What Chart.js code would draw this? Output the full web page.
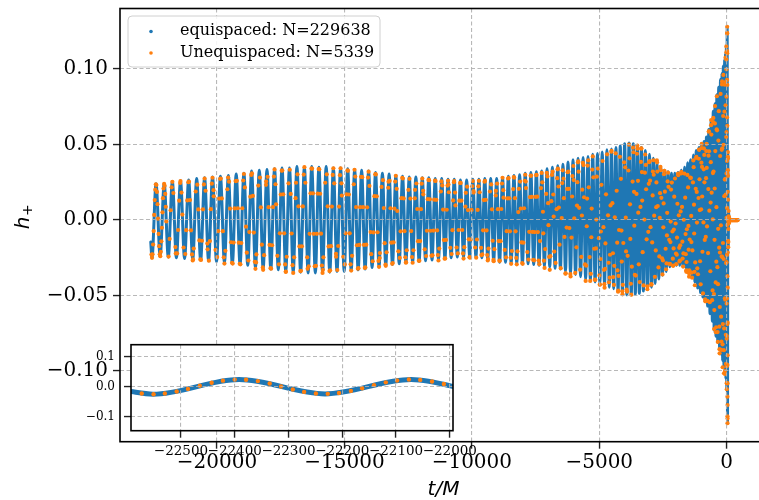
<!DOCTYPE html>
<html>
<head>
<meta charset="utf-8">
<script src="https://cdn.jsdelivr.net/npm/chart.js"></script>
<style>
  html, body { margin: 0; padding: 0; background: #fff; overflow: hidden; width: 759px; height: 500px; }
  #wrap { position: relative; width: 759px; height: 500px; overflow: hidden; }
  #main { position: absolute; left: 0; top: 0; width: 790px; height: 500px; }
  #inset { position: absolute; left: 60px; top: 330px; width: 440px; height: 140px; }
</style>
</head>
<body>
<div id="wrap">
  <canvas id="main" width="790" height="500"></canvas>
  <canvas id="inset" width="440" height="140"></canvas>
</div>
<script>
// Waveform h+ versus t/M: turning points of the densely (equally) sampled signal.
const equiExtrema = [
  [-22600,-.0145],
  [-22552,-.025],[-22392,.024],[-22232,-.024],[-22072,.024],[-21912,-.0245],[-21753,.0255],[-21593,-.025],[-21433,.026],[-21273,-.0255],[-21113,.0265],
  [-20953,-.026],[-20798,.0275],[-20642,-.0265],[-20487,.028],[-20331,-.027],[-20176,.0285],[-20020,-.0275],[-19865,.029],[-19709,-.028],[-19554,.0295],
  [-19398,-.029],[-19247,.0305],[-19096,-.0295],[-18945,.031],[-18794,-.030],[-18643,.0325],[-18492,-.0315],[-18341,.033],[-18190,-.032],[-18039,.0335],
  [-17888,-.0325],[-17742,.034],[-17595,-.033],[-17449,.0345],[-17303,-.034],[-17157,.0345],[-17010,-.0345],[-16864,.0355],[-16718,-.0345],[-16571,.035],
  [-16425,-.035],[-16283,.0355],[-16142,-.035],[-16000,.035],[-15859,-.0345],[-15717,.0355],[-15575,-.0345],[-15434,.0345],[-15292,-.034],[-15151,.0345],
  [-15009,-.034],[-14872,.034],[-14735,-.0335],[-14599,.0335],[-14462,-.033],[-14325,.033],[-14189,-.0325],[-14052,.0325],[-13915,-.0315],[-13779,.0315],
  [-13642,-.031],[-13510,.031],[-13378,-.030],[-13247,.0305],[-13115,-.0295],[-12983,.0295],[-12851,-.029],[-12719,.029],[-12588,-.028],[-12456,.0285],
  [-12324,-.028],[-12197,.0285],[-12070,-.0275],[-11944,.028],[-11817,-.027],[-11690,.028],[-11563,-.0265],[-11436,.0275],[-11310,-.026],[-11183,.0275],
  [-11056,-.0255],[-10934,.027],[-10813,-.025],[-10691,.027],[-10570,-.0245],[-10448,.0265],[-10326,-.0245],[-10205,.0265],[-10083,-.0245],[-9962,.027],
  [-9840,-.0245],[-9724,.027],[-9608,-.025],[-9492,.0275],[-9376,-.026],[-9260,.0275],[-9143,-.027],[-9027,.0275],[-8911,-.028],[-8795,.028],
  [-8679,-.028],[-8568,.029],[-8458,-.0285],[-8347,.0295],[-8237,-.0285],[-8126,.030],[-8015,-.029],[-7905,.031],[-7794,-.029],[-7684,.0315],
  [-7573,-.0295],[-7468,.032],[-7363,-.030],[-7258,.0325],[-7153,-.0305],[-7049,.034],[-6944,-.031],[-6839,.035],[-6734,-.032],[-6629,.036],
  [-6524,-.0325],[-6425,.037],[-6326,-.034],[-6227,.0385],[-6128,-.035],[-6030,.040],[-5931,-.036],[-5832,.041],[-5733,-.0375],[-5634,.0415],
  [-5535,-.039],[-5442,.042],[-5349,-.040],[-5257,.0435],[-5164,-.041],[-5071,.044],[-4978,-.042],[-4885,.045],[-4793,-.043],[-4700,.0465],
  [-4607,-.0445],[-4521,.047],[-4435,-.0455],[-4348,.048],[-4262,-.047],[-4176,.049],[-4090,-.048],[-4004,.0505],[-3917,-.0495],[-3831,.051],
  [-3745,-.0495],[-3666,.0505],[-3586,-.049],[-3507,.0495],[-3427,-.0485],[-3348,.048],[-3269,-.047],[-3189,.046],[-3110,-.046],[-3030,.0435],
  [-2951,-.0445],[-2879,.041],[-2807,-.042],[-2735,.038],[-2663,-.039],[-2591,.0355],[-2518,-.0365],[-2446,.033],[-2374,-.034],[-2302,.032],
  [-2230,-.031],[-2166,.031],[-2101,-.030],[-2037,.031],[-1973,-.030],[-1909,.0315],[-1844,-.030],[-1780,.033],[-1716,-.031],[-1651,.035],
  [-1587,-.032],[-1531,.038],[-1475,-.035],[-1419,.040],[-1363,-.037],[-1307,.043],[-1251,-.041],[-1195,.046],[-1139,-.045],[-1083,.048],
  [-1027,-.048],[-981,.050],[-934,-.051],[-888,.052],[-841,-.054],[-795,.055],[-749,-.057],[-702,.060],[-656,-.062],[-609,.066],
  [-563,-.067],[-528,.072],[-492,-.073],[-457,.077],[-421,-.077],[-386,.083],[-351,-.081],[-315,.088],[-280,-.085],[-244,.093],
  [-209,-.089],[-183,.097],[-158,-.093],[-132,.102],[-107,-.097],[-81,.106],[-64,-.101],[-47,.110],[-30,-.105],[-13,.115],
  [4,-.112],[20,.128],[32,-.1345],[46,.045],[60,-.018],[75,.006],[95,-.002],[130,0],[440,0]
];

// Samples of the unequally spaced series.
const uneqSamples = [
  [-22573,-.0229],[-22551,-.025],[-22530,-.0227],[-22508,-.0162],[-22487,-.0073],[-22465,.0034],[-22443,.0132],[-22422,.0201],[-22400,.0237],[-22379,.0232],
  [-22357,.0186],[-22335,.0105],[-22314,.0009],[-22292,-.0092],[-22271,-.0173],[-22249,-.0227],[-22227,-.0239],[-22206,-.021],[-22184,-.0141],[-22163,-.0051],
  [-22141,.0051],[-22119,.0145],[-22098,.0209],[-22076,.0239],[-22055,.0227],[-22033,.0173],[-22011,.0088],[-21990,-.0009],
  [-21899,-.0242],[-21859,-.0125],[-21819,.0065],[-21780,.0217],[-21753,.0253],[-21713,.0179],[-21619,-.0221],[-21633,-.0179],
  [-21566,-.0221],[-21526,-.0066],[-21486,.0128],[-21446,.0246],[-21433,.0258],[-21393,.0182],[-21360,.0036],[-21313,-.0182],
  [-21246,-.0225],[-21206,-.0067],[-21166,.013],[-21126,.0251],[-21100,.0254],[-21060,.0132],[-21020,-.0068],[-20980,-.0228],
  [-20953,-.0268],[-20914,-.0189],[-20942,-.0261],[-20837,.0189],[-20772,.0234],[-20733,.007],[-20694,-.0135],[-20655,-.0261],
  [-20629,-.0264],[-20590,-.0137],[-20552,.0071],[-20513,.0236],[-20487,.0275],[-20448,.0194],[-20379,-.0156],[-20370,-.0194],
  [-20318,-.0269],[-20279,-.0139],[-20241,.0072],[-20202,.0241],[-20176,.028],[-20137,.0198],[-20128,.0157],[-20059,-.0198],
  [-19994,-.0245],[-19955,-.0073],[-19917,.0142],[-19878,.0273],[-19852,.0275],[-19813,.0143],[-19774,-.0074],[-19735,-.0247],
  [-19709,-.0288],[-19670,-.0204],[-19565,.0281],[-19593,.0204],[-19528,.0254],[-19489,.0076],[-19450,-.0147],[-19411,-.0283],
  [-19385,-.0288],[-19348,-.0149],[-19310,.0077],[-19272,.0258],[-19222,.026],[-19184,.0078],[-19146,-.015],[-19109,-.029],
  [-19083,-.0293],[-19046,-.0152],[-19008,.0078],[-18970,.0262],[-18945,.0305],[-18907,.0216],[-18863,-.0044],[-18832,-.0216],
  [-18769,-.0268],[-18731,-.008],[-18693,.0155],[-18655,.0299],[-18630,.0309],[-18593,.016],[-18555,-.0083],[-18517,-.0277],
  [-18492,-.0323],[-18454,-.0228],[-18467,-.0281],[-18379,.0228],[-18316,.0281],[-18278,.0084],[-18240,-.0163],[-18203,-.0314],
  [-18190,-.033],[-18152,-.0233],[-18072,.0256],[-18077,.0233],[-18014,.0286],[-17976,.0085],[-17938,-.0165],[-17901,-.0319],
  [-17876,-.0322],[-17839,-.0167],[-17803,.0086],[-17766,.0288],[-17742,.0335],[-17705,.0237],[-17683,.0104],[-17632,-.0237],
  [-17571,-.0293],[-17534,-.0088],[-17498,.0169],[-17461,.0327],[-17437,.0328],[-17400,.017],[-17364,-.0088],[-17327,-.0294],
  [-17303,-.0343],[-17266,-.0243],[-17300,-.0342],[-17193,.0243],[-17145,.0333],[-17108,.0173],[-17071,-.0089],[-17035,-.0299],
  [-17010,-.035],[-16973,-.0247],[-16917,.0145],[-16900,.0247],[-16840,.0303],[-16803,.0091],[-16767,-.0175],[-16730,-.0338],
  [-16706,-.0336],[-16669,-.0174],[-16632,.009],[-16596,.0301],[-16571,.035],[-16534,.0247],[-16444,-.0322],[-16461,-.0247],
  [-16401,-.0306],[-16366,-.0091],[-16330,.0177],[-16295,.0341],[-16271,.0341],[-16236,.0177],[-16201,-.0091],[-16166,-.0306],
  [-16118,-.0303],[-16083,-.0091],[-16047,.0175],[-16012,.0338],[-15988,.0336],[-15953,.0174],[-15918,-.009],[-15883,-.0301],
  [-15859,-.035],[-15824,-.0247],[-15844,-.033],[-15753,.0247],[-15693,.0303],[-15658,.0091],[-15622,-.0175],[-15587,-.0338],
  [-15563,-.0333],[-15528,-.0173],[-15493,.0089],[-15458,.0299],[-15434,.0343],[-15399,.0243],[-15331,-.0224],[-15328,-.0243],
  [-15280,-.0331],[-15245,-.0172],[-15210,.0089],[-15175,.0297],[-15151,.0343],[-15116,.0243],[-15102,.0162],[-15045,-.0243],
  [-14986,-.0294],[-14952,-.0088],[-14918,.017],[-14883,.0328],[-14861,.0327],[-14826,.0169],[-14792,-.0088],[-14758,-.0293],
  [-14735,-.0335],[-14701,-.0237],[-14604,.0333],[-14633,.0237],[-14576,.0288],[-14542,.0086],[-14508,-.0167],[-14473,-.0322],
  [-14451,-.0319],[-14416,-.0165],[-14382,.0085],[-14348,.0286],[-14302,.0284],[-14268,.0085],[-14234,-.0164],[-14200,-.0317],
  [-14178,-.0314],[-14143,-.0163],[-14109,.0084],[-14075,.0281],[-14052,.032],[-14018,.0226],[-13973,-.008],[-13949,-.0226],
  [-13892,-.0273],[-13858,-.0082],[-13824,.0158],[-13790,.0304],[-13768,.0302],[-13733,.0157],[-13699,-.0081],[-13665,-.0271],
  [-13642,-.031],[-13609,-.0219],[-13616,-.0252],[-13543,.0219],[-13488,.0264],[-13455,.0079],[-13422,-.0153],[-13389,-.0295],
  [-13378,-.0303],[-13345,-.0214],[-13271,.0254],[-13280,.0214],[-13225,.026],[-13192,.0078],[-13159,-.015],[-13126,-.029],
  [-13104,-.0285],[-13071,-.0148],[-13038,.0076],[-13005,.0255],[-12983,.0293],[-12950,.0207],[-12926,.006],[-12884,-.0207],
  [-12829,-.0251],[-12796,-.0075],[-12763,.0145],[-12730,.028],[-12708,.0275],[-12675,.0143],[-12643,-.0074],[-12610,-.0247],
  [-12588,-.0283],[-12555,-.02],[-12581,-.0279],[-12489,.02],[-12445,.0273],[-12412,.0142],[-12379,-.0073],[-12346,-.0245],
  [-12324,-.0283],[-12292,-.02],[-12239,.0144],[-12229,.02],[-12176,.0242],[-12144,.0073],[-12112,-.014],[-12081,-.027],
  [-12060,-.0269],[-12028,-.0139],[-11997,.0072],[-11965,.0241],[-11944,.0275],[-11912,.0194],[-11907,.017],[-11849,-.0194],
  [-11796,-.0238],[-11764,-.0071],[-11732,.0138],[-11701,.0266],[-11679,.0264],[-11648,.0137],[-11616,-.0071],[-11584,-.0236],
  [-11542,-.0234],[-11510,-.007],[-11478,.0135],[-11447,.0261],[-11426,.0259],[-11394,.0134],[-11363,-.0069],[-11331,-.0232],
  [-11310,-.0268],[-11278,-.0189],[-11195,.0256],[-11215,.0189],[-11162,.0229],[-11130,.0069],[-11098,-.0133],[-11067,-.0256],
  [-11046,-.0254],[-11015,-.0132],[-10985,.0068],[-10954,.0228],[-10934,.026],[-10904,.0184],[-10917,.0235],[-10843,-.0184],
  [-10793,-.0225],[-10762,-.0067],[-10732,.013],[-10701,.0251],[-10691,.0258],[-10661,.0182],[-10645,.0097],[-10600,-.0182],
  [-10550,-.0221],[-10519,-.0066],[-10489,.0128],[-10458,.0246],[-10438,.0246],[-10407,.0128],[-10377,-.0066],[-10346,-.0221],
  [-10326,-.0255],[-10296,-.018],[-10252,.0089],[-10235,.018],[-10185,.0221],[-10154,.0066],[-10124,-.0128],[-10093,-.0246],
  [-10073,-.0249],[-10043,-.0129],[-10012,.0067],[-9982,.0223],[-9962,.0258],[-9931,.0182],[-9934,.0192],[-9870,-.0182],
  [-9830,-.0249],[-9801,-.0129],[-9772,.0067],[-9743,.0223],[-9724,.026],[-9695,.0184],[-9625,-.0232],[-9637,-.0184],
  [-9589,-.0228],[-9560,-.0068],[-9531,.0132],[-9502,.0254],[-9482,.0259],[-9453,.0134],[-9424,-.0069],[-9395,-.0232],
  [-9376,-.0268],[-9347,-.0189],[-9366,-.0258],[-9289,.0189],[-9241,.0236],[-9211,.0071],[-9182,-.0137],[-9153,-.0264],
  [-9143,-.0273],[-9114,-.0193],[-9061,.0163],[-9056,.0193],[-9008,.0241],[-8979,.0072],[-8950,-.0139],[-8921,-.0269],
  [-8901,-.027],[-8872,-.014],[-8843,.0073],[-8814,.0242],[-8795,.028],[-8766,.0198],[-8758,.0148],[-8708,-.0198],
  [-8660,-.0247],[-8633,-.0074],[-8605,.0143],[-8577,.0275],[-8559,.0278],[-8531,.0144],[-8504,-.0075],[-8476,-.0249],
  [-8458,-.029],[-8430,-.0205],[-8354,.0285],[-8375,.0205],[-8338,.028],[-8310,.0145],[-8283,-.0075],[-8255,-.0251],
  [-8237,-.0293],[-8209,-.0207],[-8175,.0053],[-8154,.0207],[-8107,.0255],[-8080,.0076],[-8052,-.0148],[-8024,-.0285],
  [-8006,-.029],[-7978,-.015],[-7951,.0078],[-7923,.026],[-7905,.030],[-7877,.0212],[-7885,.0255],[-7822,-.0212],
  [-7776,-.0262],[-7748,-.0078],[-7721,.0152],[-7693,.0293],[-7675,.0295],[-7647,.0153],[-7619,-.0079],[-7592,-.0264],
  [-7556,-.0267],[-7529,-.008],[-7503,.0154],[-7477,.0298],[-7459,.0299],[-7433,.0155],[-7407,-.008],[-7380,-.0268],
  [-7351,-.0292],[-7286,.0212],[-7326,-.0139],[-7261,.0312],[-7196,-.0088],[-7236,.025],[-7171,-.0269],[-7211,.0055],
  [-7147,-.0317],[-7082,.0173],[-7122,-.0192],[-7058,.0312],[-6993,-.0034],[-7033,.0289],[-6968,-.0244],[-7008,.0112],
  [-6943,-.033],[-6879,.0125],[-6919,-.0239],[-6854,.0299],[-6789,.0023],[-6829,.032],[-6764,-.0209],[-6804,.0169],
  [-6634,.0336],[-6674,.0072],[-6715,-.0284],[-6650,.0277],[-6585,.0083],[-6625,.034],[-6560,-.0163],[-6600,.0222],
  [-6436,.0329],[-6473,.0013],[-6511,-.0319],[-6450,.0245],[-6389,.0145],[-6328,-.0355],[-6365,-.0112],[-6403,.0274],
  [-6243,.0317],[-6281,-.005],[-6319,-.0353],[-6258,.0206],[-6196,.0207],[-6135,-.0358],[-6173,-.0053],[-6211,.032],
  [-6051,.0291],[-6089,-.0116],[-6126,-.0374],[-6066,.0156],[-6005,.0265],[-5944,-.035],[-5982,.0012],[-6019,.0358],
  [-5859,.0251],[-5897,-.0181],[-5836,.0382],[-5874,.0096],[-5812,.032],[-5751,-.0329],[-5789,.0081],[-5827,.0388],
  [-5667,.0201],[-5705,-.0244],[-5643,.0378],[-5681,.003],[-5620,.0364],[-5559,-.0294],[-5597,.0151],[-5535,-.0403],
  [-5478,.0142],[-5513,-.0302],[-5456,.0361],[-5491,-.0041],[-5434,.0395],[-5377,-.0245],[-5412,.0217],[-5355,-.0403],
  [-5298,.0076],[-5333,-.0356],[-5276,.0334],[-5311,-.0114],[-5254,.0421],[-5197,-.019],[-5232,.0283],[-5175,-.0395],
  [-5117,.0003],[-5153,-.0396],[-5096,.0287],[-5131,-.0188],[-4981,-.0428],[-5016,-.012],[-5052,.0341],[-4994,-.0367],
  [-4937,-.0076],[-4972,-.0427],[-4915,.0233],[-4950,-.0258],[-4801,-.0425],[-4836,-.0047],[-4871,.0391],[-4814,-.033],
  [-4757,-.0155],[-4792,-.0448],[-4735,.017],[-4771,-.0324],[-4620,-.0412],[-4656,.0031],[-4691,.0435],[-4634,-.0283],
  [-4578,-.023],[-4525,.0453],[-4558,.0097],[-4591,-.0382],[-4452,-.0378],[-4485,.0112],[-4518,.0459],[-4464,-.022],
  [-4411,-.0303],[-4357,.0442],[-4390,.0018],[-4424,-.043],[-4284,-.0334],[-4317,.0194],[-4263,-.0475],[-4296,-.015],
  [-4243,-.037],[-4190,.0419],[-4223,-.0066],[-4256,-.0467],[-4117,-.0275],[-4149,.0273],[-4096,-.0472],[-4129,-.007],
  [-4076,-.0429],[-4023,.0382],[-4056,-.0152],[-4089,-.0492],[-3949,-.0208],[-3982,.0349],[-3928,-.046],[-3961,.0016],
  [-3908,-.0474],[-3855,.0328],[-3887,-.0237],[-3834,.0499],[-3781,-.0125],[-3814,.0409],[-3761,-.0422],[-3794,.0104],
  [-3741,-.0494],[-3692,.0255],[-3722,-.0309],[-3673,.0479],[-3624,-.0037],[-3655,.0449],[-3605,-.0363],[-3636,.0187],
  [-3507,.0493],[-3538,.0173],[-3568,-.0368],[-3519,.0439],[-3470,.0049],[-3500,.0472],[-3451,-.0293],[-3481,.026],
  [-3353,.0474],[-3383,.0087],[-3413,-.0411],[-3364,.0385],[-3315,.0129],[-3346,.0473],[-3297,-.0213],[-3327,.0318],
  [-3198,.0434],[-3229,.0003],[-3260,-.0433],[-3210,.0314],[-3161,.0204],[-3112,-.0458],[-3142,-.0128],[-3173,.0365],
  [-3044,.0383],[-3075,-.0078],[-3105,-.0439],[-3056,.024],[-3007,.0261],[-2958,-.0425],[-2988,-.0047],[-3018,.0391],
  [-2896,.0321],[-2923,-.0148],[-2951,-.0428],[-2906,.0163],[-2862,.03],[-2817,-.0376],[-2845,.0029],[-2872,.0396],
  [-2756,.0249],[-2783,-.0201],[-2739,.0395],[-2766,.0085],[-2722,.0321],[-2677,-.0314],[-2705,.0093],[-2732,.0382],
  [-2616,.0178],[-2643,-.0241],[-2599,.0352],[-2626,.0014],[-2582,.033],[-2536,-.0253],[-2564,.0147],[-2519,-.036],
  [-2475,.011],[-2502,-.0268],[-2458,.0304],[-2485,-.0048],[-2441,.0326],[-2396,-.019],[-2424,.0188],[-2379,-.0326],
  [-2335,.0048],[-2362,-.0287],[-2318,.0256],[-2345,-.0102],[-2301,.0314],[-2256,-.0131],[-2284,.022],[-2239,-.029],
  [-2199,-.001],[-2223,-.0292],[-2184,.0202],[-2208,-.0146],[-2104,-.0303],[-2128,-.0076],[-2153,.0248],[-2113,-.0256],
  [-2073,-.0063],[-2098,-.0301],[-2058,.0155],[-2083,-.0188],[-1979,-.0292],[-2004,-.0023],[-2028,.0275],[-1988,-.0222],
  [-1949,-.0116],[-1909,.0308],[-1934,.0108],[-1958,-.023],[-1854,-.0274],[-1879,.0031],[-1903,.0297],[-1863,-.0184],
  [-1823,-.0167],[-1784,.0309],[-1808,.0057],[-1833,-.0268],[-1729,-.0255],[-1754,.0087],[-1778,.0319],[-1739,-.0143],
  [-1699,-.0221],[-1659,.0308],[-1683,.0002],[-1708,-.0308],[-1604,-.0226],[-1628,.0148],[-1589,-.0334],[-1613,-.0093],
  [-1575,-.0278],[-1541,.0299],[-1562,-.0061],[-1584,-.0343],[-1493,-.0196],[-1514,.0216],[-1480,-.0352],[-1501,-.0039],
  [-1467,-.0333],[-1432,.0281],[-1453,-.0129],[-1475,-.0375],[-1384,-.0146],[-1405,.0279],[-1371,-.0348],[-1392,.0027],
  [-1358,-.0382],[-1323,.0249],[-1344,-.0201],[-1310,.0395],[-1275,-.0089],[-1297,.035],[-1262,-.0343],[-1283,.0102],
  [-1249,-.0432],[-1214,.0207],[-1236,-.0281],[-1201,.0411],[-1166,-.0017],[-1188,.0418],[-1153,-.032],[-1175,.0186],
  [-1084,.0465],[-1105,.0146],[-1127,-.0359],[-1092,.0406],[-1058,.0066],[-1079,.0467],[-1044,-.0273],[-1066,.027],
  [-984,.0477],[-1002,.0071],[-1020,-.0426],[-991,.038],[-962,.0156],[-980,.0504],[-951,-.021],[-969,.0352],
  [-894,.0474],[-911,-.0016],[-929,-.0486],[-901,.0336],[-872,.025],[-843,-.0526],[-861,-.0132],[-879,.0431],
  [-803,.0457],[-821,-.0112],[-839,-.0538],[-810,.0277],[-782,.0346],[-753,-.0536],[-771,-.0042],[-788,.0505],
  [-713,.0426],[-731,-.0219],[-702,.0585],[-720,.0205],[-691,.0455],[-663,-.0544],[-680,.0062],[-698,.0588],
  [-623,.0383],[-641,-.0339],[-612,.0628],[-630,.0116],[-601,.0566],[-572,-.0531],[-590,.0181],[-608,.0662],
  [-540,.0311],[-554,-.0466],[-532,.0649],[-545,.0004],[-524,.0676],[-501,-.049],[-515,.0321],[-493,-.0722],
  [-471,.0209],[-485,-.0596],[-463,.064],[-476,-.0131],[-455,.0755],[-432,-.0413],[-446,.0457],[-424,-.0743],
  [-402,.0085],[-416,-.071],[-394,.060],[-407,-.0276],[-386,.082],[-364,-.0312],[-378,.0594],[-356,-.0742],
  [-334,-.0058],[-348,-.0807],[-325,.0526],[-339,-.0425],[-282,-.0855],[-295,-.0183],[-309,.0721],[-287,-.0706],
  [-265,-.0215],[-279,-.0883],[-256,.0424],[-270,-.0576],[-213,-.086],[-226,-.0035],[-239,.0835],[-218,-.064],
  [-205,-.0805],[-198,-.0241],[-192,.0465],[-185,.0898],[-181,.0918],[-175,.0475],[-168,-.0246],[-162,-.0823],
  [-158,-.0975],[-151,-.0689],[-146,-.0152],[-138,.0689],[-130,.0961],[-124,.0498],[-117,-.0258],[-111,-.0862],
  [-107,-.1015],[-100,-.0718],[-93,.0158],[-87,.0718],[-78,.0896],[-74,.0268],[-70,-.0518],[-65,-.1],
  [-63,-.1019],[-58,-.0528],[-54,.0273],[-50,.0914],[-47,.1075],[-43,.076],[-39,.0168],[-34,-.076],
  [-27,-.0953],[-23,-.0285],[-19,.055],[-14,.1063],
  [-13,.115],[-11.6,.1111],[-10.2,.0998],[-8.8,.0817],[-7.3,.0583],[-5.9,.0309],[-4.5,.0015],[-3.1,-.0279],[-1.7,-.0553],[-0.3,-.0787],[1.2,-.0968],[2.6,-.1081],[4,-.112],
  [5.3,-.1079],[6.7,-.0959],[8,-.0768],[9.3,-.052],[10.7,-.0231],[12,.008],[13.3,.0391],[14.7,.068],[16,.0928],[17.3,.1119],[18.7,.1239],[20,.128],
  [21,.1235],[22,.1104],[23,.0895],[24,.0624],[25,.0307],[26,-.0033],[27,-.0372],[28,-.0689],[29,-.096],[30,-.117],[31,-.130],[32,-.1345],
  [33.2,-.1314],[34.3,-.1225],[35.5,-.1082],[36.7,-.0896],[37.8,-.068],[39,-.0448],[40.2,-.0215],[41.3,.0001],[42.5,.0187],[43.7,.033],[44.8,.0419],[46,.045],
  [48.3,.0408],[50.7,.0293],[53,.0135],[55.3,-.0023],[57.7,-.0138],[60,-.018],
  [63.8,-.0145],[67.5,-.006],[71.3,.0025],[75,.006],[85,.002],[95,-.002],
  [105,.001],[115,0],[125,0],[135,0],[145,0],[155,0],[165,0],[175,0],[185,0],[195,0],[205,0],[215,0],
  [225,0],[235,0],[245,0],[255,0],[265,0],[275,0],[285,0],[295,0],[305,0],[315,0],[325,0],[335,0],
  [345,0],[355,0],[365,0],[375,0],[385,0],[395,0],[405,0],[415,0],[425,0],[435,0]
];

const seriesLabels = ['equispaced: N=229638', 'Unequispaced: N=5339'];
const seriesColors = ['#1f77b4', '#ff7f0e'];

const mainXTicks = [-20000, -15000, -10000, -5000, 0];
const mainYTicks = [-0.10, -0.05, 0.00, 0.05, 0.10];
const insetXTicks = [-22500, -22400, -22300, -22200, -22100, -22000];
const insetYTicks = [-0.1, 0.0, 0.1];

const MAIN_X = [-23807, 1582];
const Y_RANGE = [-0.1468, 0.1401];
const INSET_X = [-22593, -21994];

const toXY = arr => arr.map(p => ({ x: p[0], y: p[1] }));
const minus = s => s.replace('-', '\u2212');
const fmtInt = v => minus(String(Math.round(v)));
const fmtDec = d => v => minus((Math.abs(v) < 1e-9 ? 0 : v).toFixed(d));

function axis(range, ticks, fmt, o) {
  return {
    type: 'linear',
    min: range[0], max: range[1],
    afterBuildTicks: s => { s.ticks = ticks.map(v => ({ value: v })); },
    afterFit: s => {
      if (o.width !== undefined) s.width = o.width;
      if (o.height !== undefined) s.height = o.height;
      s.paddingTop = 0; s.paddingBottom = 0; s.paddingLeft = 0; s.paddingRight = 0;
    },
    border: { display: false, dash: [4, 2.5] },
    grid: {
      color: 'rgba(176,176,176,0.9)', lineWidth: 1.1, z: 1,
      drawTicks: true, tickLength: 7, tickColor: '#222', tickWidth: 1.4, tickBorderDash: []
    },
    ticks: {
      autoSkip: false, maxRotation: 0, minRotation: 0, padding: o.pad,
      color: '#000', font: { family: '"DejaVu Serif"', size: o.size, lineHeight: 1.2 },
      callback: fmt
    }
  };
}

const framePlugin = (fillArea) => ({
  id: 'frame',
  beforeDraw(chart) {
    const { ctx, chartArea: a } = chart;
    ctx.save();
    ctx.fillStyle = '#fff';
    if (fillArea) ctx.fillRect(a.left, a.top, a.right - a.left, a.bottom - a.top);
    else ctx.fillRect(0, 0, chart.width, chart.height);
    ctx.restore();
  },
  afterDraw(chart) {
    const { ctx, chartArea: a } = chart;
    ctx.save();
    ctx.strokeStyle = '#000';
    ctx.lineWidth = 1.6;
    ctx.strokeRect(a.left, a.top, a.right - a.left, a.bottom - a.top);
    ctx.restore();
  }
});

// Legend box and axis titles of the main panel.
const decorPlugin = {
  id: 'decor',
  afterDraw(chart) {
    const ctx = chart.ctx;
    ctx.save();
    const bx = 128, by = 16, bw = 252, bh = 51, r = 4;
    ctx.beginPath();
    ctx.moveTo(bx + r, by);
    ctx.arcTo(bx + bw, by, bx + bw, by + bh, r);
    ctx.arcTo(bx + bw, by + bh, bx, by + bh, r);
    ctx.arcTo(bx, by + bh, bx, by, r);
    ctx.arcTo(bx, by, bx + bw, by, r);
    ctx.closePath();
    ctx.fillStyle = 'rgba(255,255,255,0.85)';
    ctx.fill();
    ctx.strokeStyle = '#d0d0d0';
    ctx.lineWidth = 1;
    ctx.stroke();
    const rows = [31, 52.5];
    chart.data.datasets.forEach((ds, i) => {
      ctx.beginPath();
      ctx.arc(151, rows[i] + 0.5, 1.8, 0, Math.PI * 2);
      ctx.fillStyle = seriesColors[i];
      ctx.fill();
      ctx.fillStyle = '#000';
      ctx.font = '16px "DejaVu Serif"';
      ctx.textAlign = 'left';
      ctx.textBaseline = 'middle';
      ctx.fillText(ds.label, 180, rows[i]);
    });
    ctx.font = 'italic 20px "DejaVu Sans"';
    ctx.textAlign = 'center';
    ctx.textBaseline = 'middle';
    ctx.fillStyle = '#000';
    ctx.fillText('t/M', 443.5, 489.5);
    ctx.translate(24, 217);
    ctx.rotate(-Math.PI / 2);
    ctx.textAlign = 'left';
    ctx.font = 'italic 20px "DejaVu Sans"';
    const wh = ctx.measureText('h').width;
    ctx.font = '14px "DejaVu Sans"';
    const wp = ctx.measureText('+').width;
    const x0 = -(wh + wp) / 2;
    ctx.font = 'italic 20px "DejaVu Sans"';
    ctx.fillText('h', x0, 0);
    ctx.font = '14px "DejaVu Sans"';
    ctx.fillText('+', x0 + wh + 0.5, 4);
    ctx.restore();
  }
};

function datasets(lineW, dotR) {
  return [
    {
      label: seriesLabels[0], data: toXY(equiExtrema), showLine: true,
      borderColor: seriesColors[0], borderWidth: lineW, pointRadius: 0,
      cubicInterpolationMode: 'monotone', borderJoinStyle: 'round', borderCapStyle: 'round',
      order: 2
    },
    {
      label: seriesLabels[1], data: toXY(uneqSamples), showLine: false,
      backgroundColor: seriesColors[1], borderWidth: 0, pointRadius: dotR,
      order: 1
    }
  ];
}

const common = {
  responsive: false, animation: false, devicePixelRatio: 1, events: [],
  plugins: { legend: { display: false }, tooltip: { enabled: false }, title: { display: false } }
};

new Chart(document.getElementById('main'), {
  type: 'scatter',
  data: { datasets: datasets(3, 2.1) },
  options: Object.assign({}, common, {
    layout: { autoPadding: false, padding: { left: 0, top: 8.5, right: 23, bottom: 0 } },
    scales: {
      x: axis(MAIN_X, mainXTicks, fmtInt, { height: 58.3, pad: 2, size: 20 }),
      y: axis(Y_RANGE, mainYTicks, fmtDec(2), { width: 120, pad: 5, size: 20 })
    }
  }),
  plugins: [framePlugin(false), decorPlugin]
});

new Chart(document.getElementById('inset'), {
  type: 'scatter',
  data: { datasets: datasets(5, 2.2) },
  options: Object.assign({}, common, {
    layout: { autoPadding: false, padding: { left: 0, top: 14.7, right: 47, bottom: 0 } },
    scales: {
      x: axis(INSET_X, insetXTicks, fmtInt, { height: 39.3, pad: 6, size: 13.5 }),
      y: axis(Y_RANGE, insetYTicks, fmtDec(1), { width: 71, pad: 9, size: 12 })
    }
  }),
  plugins: [framePlugin(true)]
});
</script>
</body>
</html>
